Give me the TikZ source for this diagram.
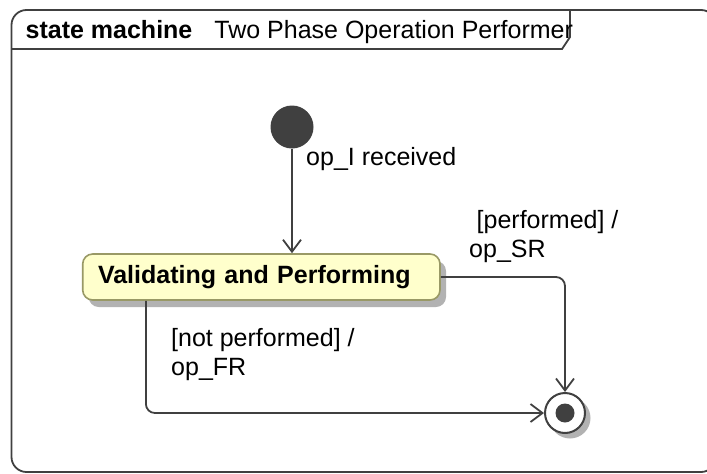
\documentclass[tikz,border=0pt]{standalone}
\usepackage{fontspec}
\setmainfont{Liberation Sans}
\usetikzlibrary{arrows.meta,shadows}
\definecolor{ln}{RGB}{64,64,64}
\definecolor{stfill}{RGB}{255,255,204}
\definecolor{stdraw}{RGB}{153,153,102}
\definecolor{shd}{RGB}{178,178,178}
\tikzset{
  conn/.style={draw=ln, line width=1.8pt, rounded corners=9pt, -{Straight Barb[length=12pt,width=18pt]}},
  lbl/.style={inner sep=0pt, anchor=base west, font=\fontsize{25}{29}\selectfont, align=left},
  statebox/.style={draw=stdraw, fill=stfill, line width=1.6pt, rounded corners=10pt,
    minimum height=46pt, text width=326.7pt, inner xsep=15.3pt, inner ysep=0pt, align=left,
    font=\fontsize{25}{29}\selectfont\bfseries,
    drop shadow={shadow xshift=6pt, shadow yshift=-7pt, fill=shd, opacity=1}},
  initstate/.style={circle, fill=ln, minimum size=43pt, inner sep=0pt},
  finalstate/.style={circle, draw=ln, fill=white, line width=2pt, minimum size=40pt, inner sep=0pt}
}
\begin{document}
\begin{tikzpicture}[x=1pt,y=-1pt]
\useasboundingbox (0,0) rectangle (707,474);
\clip (0,0) rectangle (707,474);
% frame
\draw[ln, line width=1.8pt, rounded corners=15pt] (11.5,10) rectangle (716,472);
\draw[ln, line width=1.8pt] (11.5,49) -- (562,49) -- (570,37) -- (570,10);
\node[lbl] (title) at (25.5,38) {\textbf{state machine}\hspace{22pt}Two Phase Operation Performer};
% states
\node[initstate] (init) at (292,127) {};
\node[statebox] (vp) at (261.35,277) {Validating and Performing};
\fill[shd] (570,418) circle (20.5pt);
\node[finalstate] (fin) at (565,413) {};
\fill[ln] (fin.center) circle (9.5pt);
% transitions
\draw[conn] (init.south) -- (init.south |- vp.north);
\draw[conn] (vp.east) -- (fin.north |- vp.east) -- (fin.north);
\coordinate (lo) at ([xshift=64pt]vp.south west);
\draw[conn] (lo) -- (lo |- fin.west) -- (fin.west);
% labels
\node[lbl] (l1) at (306,165) {op\_I received};
\node[lbl] (l2) at (469,257) {\hspace*{7.5pt}[performed] /\\op\_SR};
\node[lbl] (l3) at (171,375) {[not performed] /\\op\_FR};
\end{tikzpicture}
\end{document}
